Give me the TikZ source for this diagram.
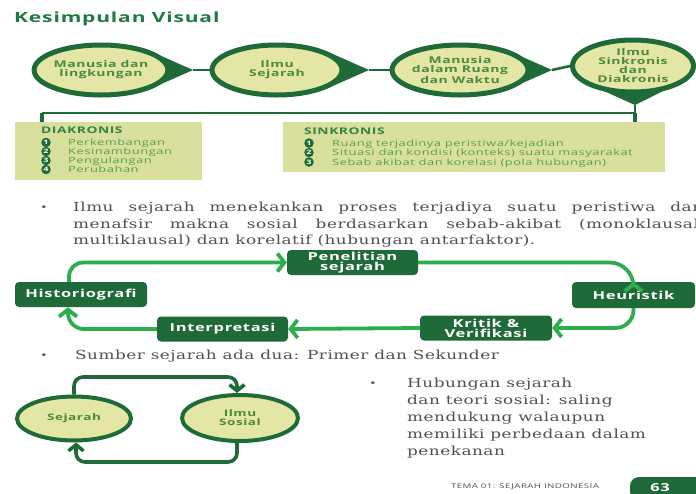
\documentclass[tikz,border=0pt]{standalone}
\usepackage{fontspec}
\usetikzlibrary{arrows.meta,shapes.geometric,calc}
\setmainfont{DejaVu Serif}[FakeStretch=1.35,LetterSpace=4]
\newfontfamily\sansf{Open Sans}[FakeStretch=1.5,LetterSpace=6]
\definecolor{dk}{HTML}{1E6A38}
\definecolor{cfill}{HTML}{E4E6A6}
\definecolor{bfill}{HTML}{D9DF9C}
\definecolor{agreen}{HTML}{2CAD4E}
\definecolor{ctext}{HTML}{4B8A3C}
\definecolor{ltext}{HTML}{55A04F}
\definecolor{gtext}{HTML}{505050}
\definecolor{htext}{HTML}{2F8440}
\definecolor{ttl}{HTML}{1E7A3E}
\tikzset{
  drop/.style={ellipse, draw=dk, fill=cfill, line width=5pt, minimum width=130pt, minimum height=50pt, inner sep=0pt,
    font=\sansf\bfseries\fontsize{9.3}{9}\selectfont, text=ctext, align=center},
  ptr/.style={fill=dk},
  link/.style={draw=dk, line width=2.6pt},
  stub/.style={draw=dk, line width=4pt},
  infobox/.style={rectangle, fill=bfill, inner sep=0pt},
  head/.style={anchor=base west, inner sep=0pt, text=htext, font=\sansf\bfseries\fontsize{9.2}{9}\selectfont},
  item/.style={anchor=base west, inner sep=0pt, text=ltext, font=\sansf\fontsize{8.6}{9}\selectfont},
  nb/.style={circle, fill=dk, text=white, inner sep=0pt, minimum size=9.5pt, font=\sansf\bfseries\fontsize{6}{6}\selectfont},
  cyc/.style={rectangle, rounded corners=4pt, fill=dk, text=white, align=center, inner sep=0pt,
    font=\sansf\bfseries\fontsize{11}{10}\selectfont},
  arr/.style={draw=agreen, line width=3.8pt, -{Straight Barb[length=7pt,width=18pt]}},
  ring/.style={ellipse, draw=dk, fill=cfill, line width=4pt, inner sep=0pt, text=ctext, align=center,
    font=\sansf\bfseries\fontsize{9}{9}\selectfont},
  darr/.style={draw=dk, line width=3.6pt, rounded corners=9pt, -{Straight Barb[length=6pt,width=15pt]}},
  ptext/.style={anchor=base west, inner sep=0pt, text=gtext, font=\fontsize{12.5}{16.5}\selectfont},
  bul/.style={anchor=base, inner sep=0pt, text=gtext, font=\fontsize{9}{10}\selectfont}
}
\begin{document}
\begin{tikzpicture}[x=1pt,y=-1pt]
\path[use as bounding box, fill=white] (0,0) rectangle (696,493);
\clip (0,0) rectangle (696,493);

% title
\node[anchor=base west, inner sep=0pt, text=ttl, font=\sansf\bfseries\fontsize{14}{14}\selectfont] (title) at (14,22) {Kesimpulan Visual};

% top teardrops
\coordinate (c1) at (101,70);
\coordinate (c2) at (277,70);
\coordinate (c3) at (460,70);
\coordinate (c4) at (633,66);
\coordinate (t1) at (193,70);
\coordinate (t2) at (369,70);
\coordinate (t3) at (552,70);
\coordinate (t4) at (635,105);
\fill[ptr] ($(c1)+(49,-19)$) -- (t1) -- ($(c1)+(49,19)$) -- cycle;
\fill[ptr] ($(c2)+(49,-19)$) -- (t2) -- ($(c2)+(49,19)$) -- cycle;
\fill[ptr] ($(c3)+(49,-19)$) -- (t3) -- ($(c3)+(49,19)$) -- cycle;
\fill[ptr] ($(c4)+(-38,21)$) -- (t4) -- ($(c4)+(38,21)$) -- cycle;
\node[drop] (m1) at (c1) {Manusia dan\\lingkungan};
\node[drop] (m2) at (c2) {Ilmu\\Sejarah};
\node[drop] (m3) at (c3) {Manusia\\dalam Ruang\\dan Waktu};
\node[drop, minimum width=121pt, minimum height=52pt] (m4) at (c4) {Ilmu\\Sinkronis\\dan\\Diakronis};
\draw[link] (t1) -- (m2.west);
\draw[link] (t2) -- (m3.west);
\draw[link] (t3) -- (m4.west);

% info boxes
\node[infobox, minimum width=187pt, minimum height=58pt] (diak) at (108.5,151) {};
\node[infobox, minimum width=382pt, minimum height=50pt] (sink) at (474,147) {};
\coordinate (bl) at (42,113);
\draw[link] (t4) -- (t4 |- bl) -- (bl);
\draw[stub] (bl) -- (bl |- diak.north);
\draw[stub] (t4 |- bl) -- (t4 |- sink.north);

\node[head] (dh) at (41,133.5) {DIAKRONIS};
\node[nb] (d1) at (46,142.5) {1};
\node[nb] (d2) at (46,151.5) {2};
\node[nb] (d3) at (46,160.5) {3};
\node[nb] (d4) at (46,169.5) {4};
\node[item] (dt1) at (68,145.5) {Perkembangan};
\node[item] (dt2) at (68,154.5) {Kesinambungan};
\node[item] (dt3) at (68,163.5) {Pengulangan};
\node[item] (dt4) at (68,172.5) {Perubahan};

\node[head] (sh) at (304,134.5) {SINKRONIS};
\node[nb] (s1) at (309,143) {1};
\node[nb] (s2) at (309,152.5) {2};
\node[nb] (s3) at (309,162) {3};
\node[item] (st1) at (332,146) {Ruang terjadinya peristiwa/kejadian};
\node[item] (st2) at (332,155.5) {Situasi dan kondisi (konteks) suatu masyarakat};
\node[item] (st3) at (332,165) {Sebab akibat dan korelasi (pola hubungan)};

% paragraph
\node[bul] (b1) at (44,210) {\textbullet};
\node[ptext] (p1) at (73,211) {\makebox[630pt][s]{Ilmu sejarah menekankan proses terjadiya suatu peristiwa dan}};
\node[ptext] (p2) at (73,228) {\makebox[632pt][s]{menafsir makna sosial berdasarkan sebab-akibat (monoklausal/}};
\node[ptext] (p3) at (73,244.5) {multiklausal) dan korelatif (hubungan antarfaktor).};

% cycle
\node[cyc, minimum width=131pt, minimum height=25pt] (pen) at (352.5,262.5) {Penelitian\\sejarah};
\node[cyc, minimum width=132pt, minimum height=25pt] (hist) at (81,294.5) {Historiografi};
\node[cyc, minimum width=131pt, minimum height=25pt] (interp) at (222.5,329) {Interpretasi};
\node[cyc, minimum width=123pt, minimum height=26pt] (heur) at (633.5,295) {Heuristik};
\node[cyc, minimum width=132pt, minimum height=25pt] (krit) at (486,328) {Kritik \&\\Verifikasi};

\draw[arr, rounded corners=14pt] ([xshift=-12pt]hist.north) |- (pen.west);
\draw[arr, rounded corners=24pt] (pen.east) -| (heur.north);
\draw[arr, rounded corners=18pt] (heur.south) |- (krit.east);
\draw[arr] (krit.west) -- (interp.east);
\draw[arr, rounded corners=16pt] (interp.west) -| ([xshift=-13pt]hist.south);

% second bullet
\node[bul] (b2) at (44,358) {\textbullet};
\node[ptext] (p4) at (75,359) {Sumber sejarah ada dua: Primer dan Sekunder};

% bottom cycle
\node[ring, minimum width=114pt, minimum height=44pt] (sej) at (74,418.5) {Sejarah};
\node[ring, minimum width=116pt, minimum height=46pt] (ilmu) at (240,418) {Ilmu\\Sosial};
\coordinate (tl) at (0,377);
\coordinate (bt) at (0,462);
\draw[darr] (sej.north) -- (sej.north |- tl) -- ([xshift=-3pt]ilmu.north |- tl) -- ([xshift=-3pt]ilmu.north);
\draw[darr] ([xshift=-3pt]ilmu.south) -- ([xshift=-3pt]ilmu.south |- bt) -- ([xshift=2pt]sej.south |- bt) -- ([xshift=2pt]sej.south);

% right bullet
\node[bul] (b3) at (373,386) {\textbullet};
\node[anchor=north west, inner sep=0pt, text=gtext, align=left, font=\fontsize{12.5}{17}\selectfont] (p5) at (407,377.5) {Hubungan sejarah\\dan teori sosial: saling\\mendukung walaupun\\memiliki perbedaan dalam\\penekanan};

% footer
\node[anchor=center, inner sep=0pt, text=gtext, font=\sansf\fontsize{6.5}{7}\selectfont] (foot) at (525,487) {TEMA 01: SEJARAH INDONESIA};
\node[fill=dk, rounded corners=9pt, minimum width=80pt, minimum height=24pt, inner sep=0pt] (pill) at (670,489) {};
\node[anchor=center, inner sep=0pt, text=white, font=\sansf\bfseries\fontsize{11}{12}\selectfont] (pg) at (660,487.5) {63};
\end{tikzpicture}
\end{document}
